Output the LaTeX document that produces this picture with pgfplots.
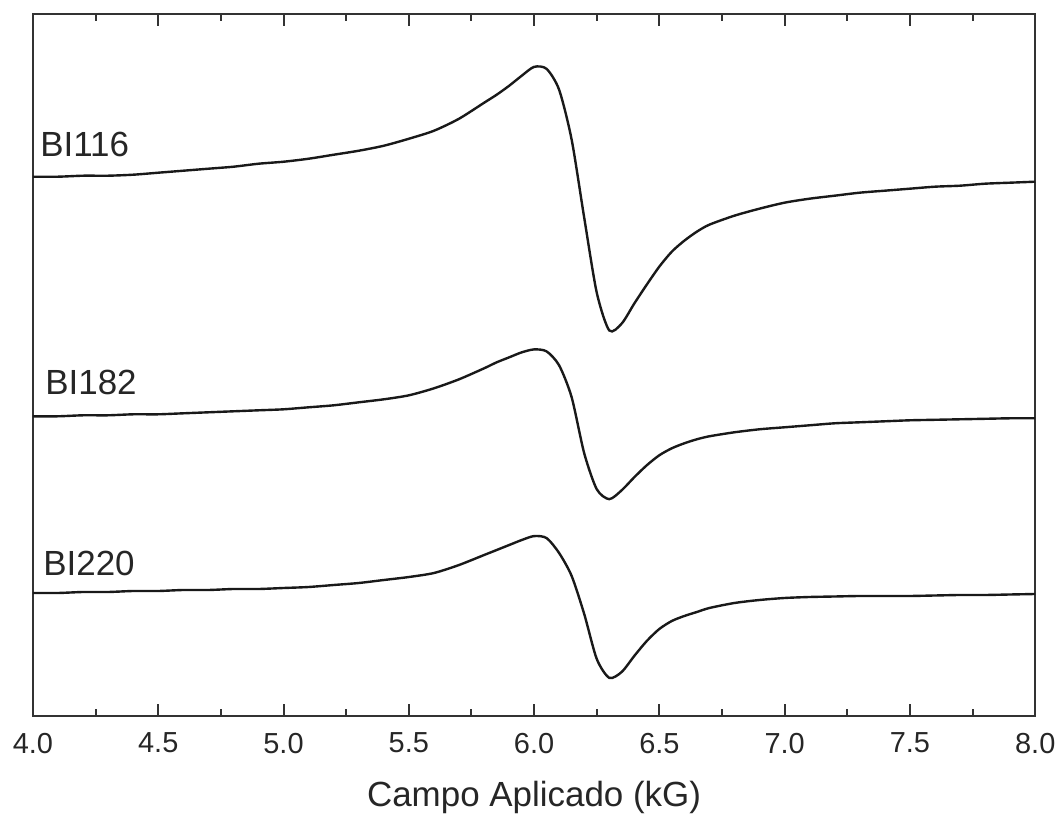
\documentclass[border=0pt]{standalone}
\usepackage{fontspec}
\setmainfont{Liberation Sans}
\usepackage{pgfplots}
\pgfplotsset{compat=1.18}
\begin{document}
\begin{tikzpicture}
\begin{axis}[
  name=main,
  scale only axis,
  width=502pt, height=351.5pt,
  xmin=4, xmax=8, ymin=-717, ymax=-14,
  xtick={4.0,4.5,5.0,5.5,6.0,6.5,7.0,7.5,8.0},
  xticklabels={4.0,4.5,5.0,5.5,6.0,6.5,7.0,7.5,8.0},
  minor x tick num=1,
  ytick=\empty,
  tick align=inside,
  major tick length=6pt,
  minor tick length=3.5pt,
  axis line style={black!80, line width=1pt},
  every tick/.style={black!80, line width=1pt},
  xtick pos=both,
  /pgf/number format/assume math mode=true,
  tick label style={font=\fontsize{14.5}{16}\selectfont, text=black!85},
  xticklabel style={yshift=-5pt},
  xlabel={Campo Aplicado (kG)},
  xlabel style={font=\fontsize{17.5}{20}\selectfont, text=black!85, yshift=-7pt},
  clip=false,
]
\addplot[black!90, line width=1.2pt, smooth, tension=0.45] coordinates {
(4.0,-177) (4.1,-177) (4.2,-176) (4.3,-176) (4.4,-175) (4.5,-173) (4.6,-171)
(4.7,-169) (4.8,-167) (4.9,-164) (5.0,-162) (5.1,-159) (5.2,-155) (5.3,-151)
(5.4,-146) (5.5,-139) (5.6,-131) (5.7,-119) (5.8,-103) (5.85,-95) (5.9,-86)
(5.95,-76) (6.0,-67) (6.05,-69) (6.1,-90) (6.15,-140) (6.2,-218) (6.25,-293)
(6.3,-331) (6.35,-324) (6.4,-304) (6.45,-285) (6.5,-267) (6.55,-252)
(6.6,-241) (6.65,-232) (6.7,-225) (6.8,-216) (6.9,-209) (7.0,-203)
(7.1,-199) (7.2,-196) (7.3,-193) (7.4,-191) (7.5,-189) (7.6,-187)
(7.7,-186) (7.8,-184) (7.9,-183) (8.0,-182)
};
\addplot[black!90, line width=1.2pt, smooth, tension=0.45] coordinates {
(4.0,-417) (4.1,-417) (4.2,-416) (4.3,-416) (4.4,-415) (4.5,-415) (4.6,-414)
(4.7,-413) (4.8,-412) (4.9,-411) (5.0,-410) (5.1,-408) (5.2,-406) (5.3,-403)
(5.4,-400) (5.5,-396) (5.6,-389) (5.7,-380) (5.8,-369) (5.85,-363) (5.9,-358)
(5.95,-353) (6.0,-350) (6.05,-352) (6.1,-366) (6.15,-398) (6.2,-454)
(6.25,-490) (6.3,-500) (6.35,-491) (6.4,-478) (6.45,-466) (6.5,-456)
(6.55,-449) (6.6,-444) (6.65,-440) (6.7,-437) (6.8,-433) (6.9,-430)
(7.0,-428) (7.1,-426) (7.2,-424) (7.3,-423) (7.4,-422) (7.5,-421)
(7.6,-420.5) (7.7,-420) (7.8,-419.5) (7.9,-419) (8.0,-419)
};
\addplot[black!90, line width=1.2pt, smooth, tension=0.45] coordinates {
(4.0,-594) (4.1,-594) (4.2,-593) (4.3,-593) (4.4,-592) (4.5,-592) (4.6,-591)
(4.7,-591) (4.8,-590) (4.9,-590) (5.0,-589) (5.1,-588) (5.2,-586) (5.3,-584)
(5.4,-581) (5.5,-578) (5.6,-574) (5.7,-566) (5.8,-556) (5.85,-551) (5.9,-546)
(5.95,-541) (6.0,-537) (6.05,-539) (6.1,-554) (6.15,-577) (6.2,-615)
(6.25,-660) (6.3,-679) (6.35,-673) (6.4,-657) (6.45,-642) (6.5,-630)
(6.55,-622) (6.6,-617) (6.65,-613) (6.7,-609) (6.8,-604) (6.9,-601)
(7.0,-599) (7.1,-598) (7.2,-597.5) (7.3,-597) (7.4,-597) (7.5,-597)
(7.6,-596.5) (7.7,-596) (7.8,-596) (7.9,-595.5) (8.0,-595)
};
\node[anchor=base west, inner sep=0pt, font=\fontsize{17.5}{20}\selectfont, text=black!85] at (axis cs:4.028,-157) {BI116};
\node[anchor=base west, inner sep=0pt, font=\fontsize{17.5}{20}\selectfont, text=black!85] at (axis cs:4.048,-395) {BI182};
\node[anchor=base west, inner sep=0pt, font=\fontsize{17.5}{20}\selectfont, text=black!85] at (axis cs:4.040,-576) {BI220};
\end{axis}
\path ([shift={(-16.5pt,-49.5pt)}]main.south west) rectangle ([shift={(12.5pt,7pt)}]main.north east);
\end{tikzpicture}
\end{document}
